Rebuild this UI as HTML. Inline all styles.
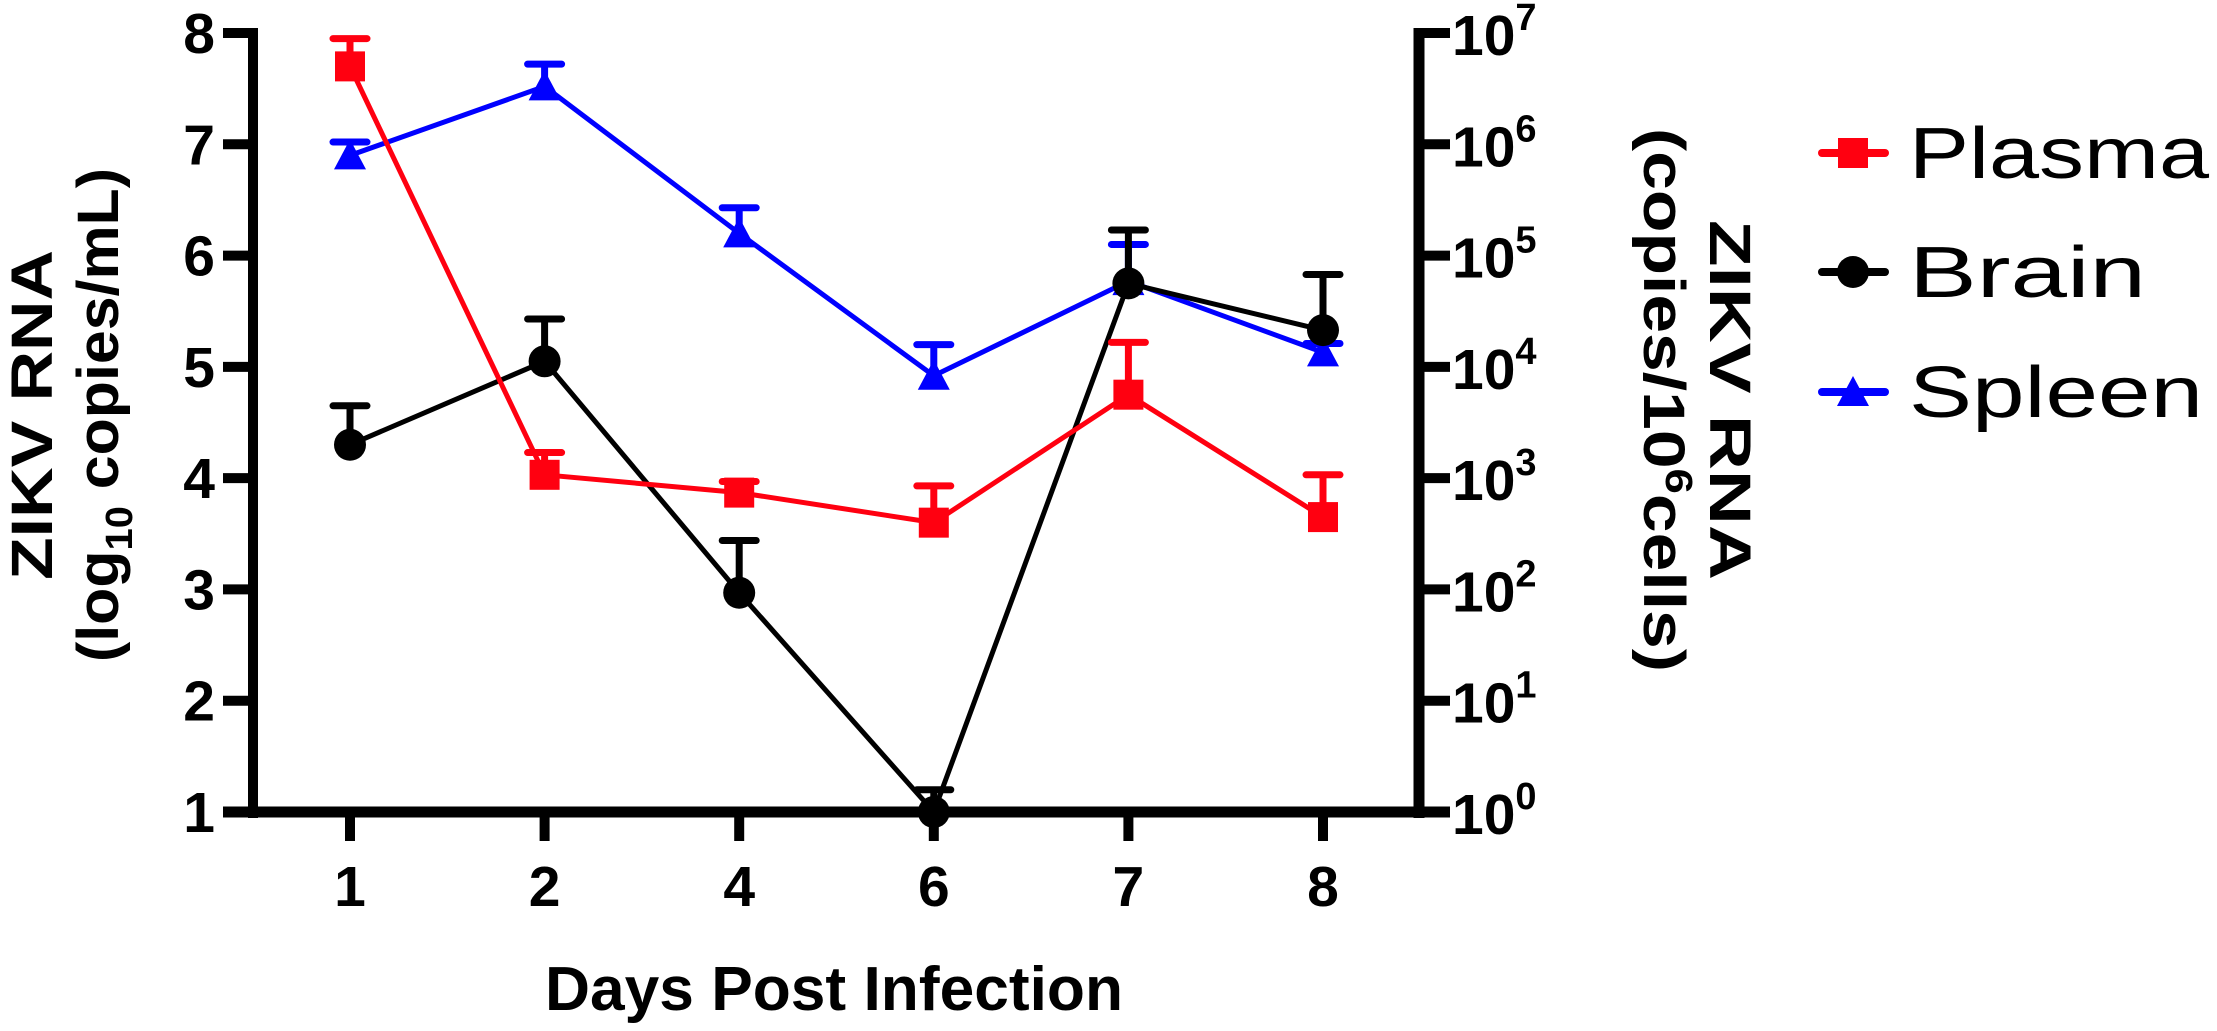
<!DOCTYPE html>
<html><head><meta charset="utf-8"><style>
html,body{margin:0;padding:0;background:#fff;}
svg{display:block;font-family:"Liberation Sans",Arial,sans-serif;}
</style></head><body>
<svg id="chart" width="2217" height="1031" viewBox="0 0 2217 1031" xmlns="http://www.w3.org/2000/svg">
<g id="axes"></g>
<g id="series"></g>
<text x="834" y="1010" font-size="62" font-weight="bold" text-anchor="middle" textLength="578" lengthAdjust="spacingAndGlyphs">Days Post Infection</text>
<g transform="translate(52,415) rotate(-90)">
<text font-size="58" font-weight="bold" text-anchor="middle" x="0" y="0" textLength="330" lengthAdjust="spacingAndGlyphs">ZIKV RNA</text>
<text font-size="58" font-weight="bold" text-anchor="middle" x="0" y="66" textLength="494" lengthAdjust="spacingAndGlyphs">(log<tspan font-size="38" dy="14">10</tspan><tspan dy="-14"> copies/mL)</tspan></text>
</g>
<g transform="translate(1710,400) rotate(90)">
<text font-size="58" font-weight="bold" text-anchor="middle" x="0" y="0" textLength="360" lengthAdjust="spacingAndGlyphs">ZIKV RNA</text>
<text font-size="58" font-weight="bold" text-anchor="middle" x="0" y="66" textLength="544" lengthAdjust="spacingAndGlyphs">(copies/10<tspan font-size="38" dy="-22">6</tspan><tspan dy="22">cells)</tspan></text>
</g>
<g id="legend"></g>
</svg>
<script>
const categories = ["1","2","4","6","7","8"];
const plasmaMean = [7.7, 4.03, 3.87, 3.6, 4.75, 3.65];
const plasmaErr  = [0.25, 0.2, 0.1, 0.33, 0.47, 0.38];
const brainMean  = [4.3, 5.05, 2.97, 1.0, 5.75, 5.33];
const brainErr   = [0.35, 0.38, 0.47, 0.2, 0.48, 0.5];
const spleenMean = [6.9, 7.52, 6.2, 4.92, 5.77, 5.13];
const spleenErr  = [0.12, 0.2, 0.23, 0.28, 0.33, 0.08];
const leftTicks  = [1,2,3,4,5,6,7,8];
const rightTicks = [0,1,2,3,4,5,6,7];

const NS="http://www.w3.org/2000/svg";
const X0=350, XSTEP=194.6, Y8=33, Y1=812, LAX=253, RAX=1419;
const x = i => X0 + i*XSTEP;
const y = v => Y1 - (v-1)*(Y1-Y8)/7;
const yr = e => y(e+1);
function mk(tag, attrs, parent){const el=document.createElementNS(NS,tag);for(const k in attrs)el.setAttribute(k,attrs[k]);parent.appendChild(el);return el;}
const axes=document.getElementById('axes');
let el=mk('line',{x1:LAX,y1:Y8-5,x2:LAX,y2:Y1+6,stroke:'#000','stroke-width':10},axes);


el=mk('line',{x1:RAX,y1:Y8-5,x2:RAX,y2:Y1+6,stroke:'#000','stroke-width':11},axes);


el=mk('line',{x1:223,y1:Y1,x2:RAX+31,y2:Y1,stroke:'#000','stroke-width':11},axes);


leftTicks.forEach(t=>{
  const l=mk('line',{x1:223,y1:y(t),x2:LAX,y2:y(t),stroke:'#000','stroke-width':10},axes);
  
  
  const tx=mk('text',{x:215,y:y(t)+20,'font-size':57,'font-weight':'bold','text-anchor':'end'},axes);
  tx.textContent=t;
  
  
});
rightTicks.forEach(t=>{
  const l=mk('line',{x1:RAX,y1:yr(t),x2:RAX+31,y2:yr(t),stroke:'#000','stroke-width':10},axes);
  
  
  const tx=mk('text',{x:RAX+33,y:yr(t)+22,'font-size':57,'font-weight':'bold'},axes);
  
  
  tx.appendChild(document.createTextNode('10'));
  const sp=mk('tspan',{'font-size':38,dy:-25},tx);sp.textContent=t;
});
categories.forEach((c,i)=>{
  const l=mk('line',{x1:x(i),y1:Y1,x2:x(i),y2:Y1+29,stroke:'#000','stroke-width':10},axes);
  
  
  const tx=mk('text',{x:x(i),y:906,'font-size':57,'font-weight':'bold','text-anchor':'middle'},axes);
  tx.textContent=c;
  
  
});
const ser=document.getElementById('series');
function marker(g,type,cx,cy,color){
  let m;
  if(type==='square') m=mk('rect',{x:cx-15,y:cy-15,width:30,height:30,fill:color},g);
  else if(type==='circle') m=mk('circle',{cx:cx,cy:cy,r:16,fill:color},g);
  else m=mk('polygon',{points:`${cx},${cy-16} ${cx-16},${cy+14} ${cx+16},${cy+14}`,fill:color},g);
  return m;
}
function drawSeries(name,means,errs,color,type){
  const g=mk('g',{},ser);
  
  
  means.forEach((v,i)=>{
    const e=mk('path',{d:`M${x(i)},${y(v)} L${x(i)},${y(v+errs[i])} M${x(i)-17},${y(v+errs[i])} L${x(i)+17},${y(v+errs[i])}`,stroke:color,'stroke-width':7,'stroke-linecap':'round',fill:'none'},g);
    
    
  });
  const pl=mk('polyline',{points:means.map((v,i)=>x(i)+','+y(v)).join(' '),stroke:color,'stroke-width':5,fill:'none'},g);
  
  
  means.forEach((v,i)=>{
    const m=marker(g,type,x(i),y(v),color);
    
    
  });
}
drawSeries('spleen',spleenMean,spleenErr,'#0000ff','triangle');
drawSeries('brain',brainMean,brainErr,'#000000','circle');
drawSeries('plasma',plasmaMean,plasmaErr,'#ff0010','square');
const leg=document.getElementById('legend');
[['Plasma','#ff0010','square',153,300],['Brain','#000','circle',272,237],['Spleen','#0000ff','triangle',392,294]].forEach(([n,c,t,ly,w])=>{
  const g=mk('g',{},leg);
  
  
  mk('line',{x1:1822,y1:ly,x2:1885,y2:ly,stroke:c,'stroke-width':8,'stroke-linecap':'round'},g);
  marker(g,t,1853,ly,c);
  const tx=mk('text',{x:1909,y:ly+25,'font-size':72,textLength:w,lengthAdjust:'spacingAndGlyphs'},g);
  tx.textContent=n;
});
</script>
</body></html>
